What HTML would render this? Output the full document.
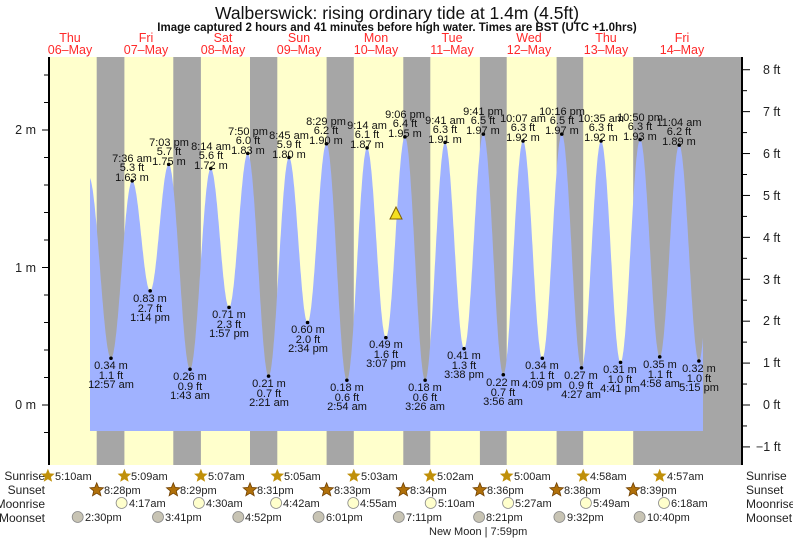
<!DOCTYPE html>
<html><head><meta charset="utf-8"><style>
body{margin:0;background:#fff;}
svg{display:block;font-family:"Liberation Sans",Arial,sans-serif;}
.l{font-size:11px;text-anchor:middle;fill:#111;}
.r{font-size:12px;fill:#222;}
.d{font-size:12.5px;text-anchor:middle;fill:#ff2a2a;}
</style></head><body>
<svg id="s" width="793" height="539" viewBox="0 0 793 539">
<rect x="49" y="57" width="693" height="408" fill="#ffffcc"/>
<g fill="#a6a6a6">
<rect x="96.7" y="57" width="27.7" height="408"/>
<rect x="173.3" y="57" width="27.6" height="408"/>
<rect x="250" y="57" width="27.3" height="408"/>
<rect x="326.6" y="57" width="27.2" height="408"/>
<rect x="403.3" y="57" width="27" height="408"/>
<rect x="479.9" y="57" width="26.8" height="408"/>
<rect x="556.6" y="57" width="26.6" height="408"/>
<rect x="633.2" y="57" width="108.8" height="408"/>
</g>
<path id="tide" fill="#a0b2ff" d=""/>
<g id="dots" fill="#000"></g>
<polygon points="396,207 402,219 390,219" fill="#f5e020" stroke="#806000" stroke-width="1"/>
<!-- axes -->
<line x1="49" y1="57" x2="49" y2="465" stroke="#000" stroke-width="2"/>
<line x1="742" y1="57" x2="742" y2="465" stroke="#000" stroke-width="2"/>
<g id="ticks" stroke="#000" stroke-width="1"></g>
<g font-size="12.5" fill="#222" text-anchor="end">
<text x="36" y="134">2 m</text><text x="36" y="272">1 m</text><text x="36" y="409">0 m</text>
</g>
<g font-size="12.5" fill="#222">
<text x="763" y="74">8 ft</text><text x="763" y="116">7 ft</text><text x="763" y="158">6 ft</text>
<text x="763" y="200">5 ft</text><text x="763" y="242">4 ft</text><text x="763" y="284">3 ft</text>
<text x="763" y="325">2 ft</text><text x="763" y="367">1 ft</text><text x="763" y="409">0 ft</text>
<text x="756" y="451">−1 ft</text>
</g>
<text x="397" y="19" font-size="17.5" text-anchor="middle" fill="#111">Walberswick: rising  ordinary tide at 1.4m (4.5ft)</text>
<text x="397" y="31" font-size="11.5" font-weight="bold" text-anchor="middle" fill="#111">Image captured 2 hours and 41 minutes before high water. Times are BST (UTC +1.0hrs)</text>
<g class="d">
<text x="70" y="42" class="d">Thu</text><text x="70" y="54" class="d">06–May</text>
<text x="146" y="42" class="d">Fri</text><text x="146" y="54" class="d">07–May</text>
<text x="223" y="42" class="d">Sat</text><text x="223" y="54" class="d">08–May</text>
<text x="299" y="42" class="d">Sun</text><text x="299" y="54" class="d">09–May</text>
<text x="376" y="42" class="d">Mon</text><text x="376" y="54" class="d">10–May</text>
<text x="452" y="42" class="d">Tue</text><text x="452" y="54" class="d">11–May</text>
<text x="529" y="42" class="d">Wed</text><text x="529" y="54" class="d">12–May</text>
<text x="606" y="42" class="d">Thu</text><text x="606" y="54" class="d">13–May</text>
<text x="682" y="42" class="d">Fri</text><text x="682" y="54" class="d">14–May</text>
</g>
<!-- High labels -->
<g class="l">
<text x="132" y="162">7:36 am</text><text x="132" y="171">5.3 ft</text><text x="132" y="181">1.63 m</text>
<text x="169" y="146">7:03 pm</text><text x="169" y="155">5.7 ft</text><text x="169" y="165">1.75 m</text>
<text x="211" y="150">8:14 am</text><text x="211" y="159">5.6 ft</text><text x="211" y="169">1.72 m</text>
<text x="248" y="135">7:50 pm</text><text x="248" y="144">6.0 ft</text><text x="248" y="154">1.83 m</text>
<text x="289" y="139">8:45 am</text><text x="289" y="148">5.9 ft</text><text x="289" y="158">1.80 m</text>
<text x="326" y="125">8:29 pm</text><text x="326" y="134">6.2 ft</text><text x="326" y="144">1.90 m</text>
<text x="367" y="129">9:14 am</text><text x="367" y="138">6.1 ft</text><text x="367" y="148">1.87 m</text>
<text x="405" y="118">9:06 pm</text><text x="405" y="127">6.4 ft</text><text x="405" y="137">1.95 m</text>
<text x="445" y="124">9:41 am</text><text x="445" y="133">6.3 ft</text><text x="445" y="143">1.91 m</text>
<text x="483" y="115">9:41 pm</text><text x="483" y="124">6.5 ft</text><text x="483" y="134">1.97 m</text>
<text x="523" y="122">10:07 am</text><text x="523" y="131">6.3 ft</text><text x="523" y="141">1.92 m</text>
<text x="562" y="115">10:16 pm</text><text x="562" y="124">6.5 ft</text><text x="562" y="134">1.97 m</text>
<text x="601" y="122">10:35 am</text><text x="601" y="131">6.3 ft</text><text x="601" y="141">1.92 m</text>
<text x="640" y="121">10:50 pm</text><text x="640" y="130">6.3 ft</text><text x="640" y="140">1.93 m</text>
<text x="679" y="126">11:04 am</text><text x="679" y="135">6.2 ft</text><text x="679" y="145">1.89 m</text>
</g>
<!-- Low labels -->
<g class="l">
<text x="111" y="369">0.34 m</text><text x="111" y="379">1.1 ft</text><text x="111" y="388">12:57 am</text>
<text x="150" y="302">0.83 m</text><text x="150" y="312">2.7 ft</text><text x="150" y="321">1:14 pm</text>
<text x="190" y="380">0.26 m</text><text x="190" y="390">0.9 ft</text><text x="190" y="399">1:43 am</text>
<text x="229" y="318">0.71 m</text><text x="229" y="328">2.3 ft</text><text x="229" y="337">1:57 pm</text>
<text x="269" y="387">0.21 m</text><text x="269" y="397">0.7 ft</text><text x="269" y="406">2:21 am</text>
<text x="308" y="333">0.60 m</text><text x="308" y="343">2.0 ft</text><text x="308" y="352">2:34 pm</text>
<text x="347" y="391">0.18 m</text><text x="347" y="401">0.6 ft</text><text x="347" y="410">2:54 am</text>
<text x="386" y="348">0.49 m</text><text x="386" y="358">1.6 ft</text><text x="386" y="367">3:07 pm</text>
<text x="425" y="391">0.18 m</text><text x="425" y="401">0.6 ft</text><text x="425" y="410">3:26 am</text>
<text x="464" y="359">0.41 m</text><text x="464" y="369">1.3 ft</text><text x="464" y="378">3:38 pm</text>
<text x="503" y="386">0.22 m</text><text x="503" y="396">0.7 ft</text><text x="503" y="405">3:56 am</text>
<text x="542" y="369">0.34 m</text><text x="542" y="379">1.1 ft</text><text x="542" y="388">4:09 pm</text>
<text x="581" y="379">0.27 m</text><text x="581" y="389">0.9 ft</text><text x="581" y="398">4:27 am</text>
<text x="620" y="373">0.31 m</text><text x="620" y="383">1.0 ft</text><text x="620" y="392">4:41 pm</text>
<text x="660" y="368">0.35 m</text><text x="660" y="378">1.1 ft</text><text x="660" y="387">4:58 am</text>
<text x="699" y="372">0.32 m</text><text x="699" y="382">1.0 ft</text><text x="699" y="391">5:15 pm</text>
</g>
<!-- bottom rows -->
<g class="r" text-anchor="end">
<text x="45" y="480">Sunrise</text><text x="45" y="494">Sunset</text><text x="45" y="508">Moonrise</text><text x="45" y="522">Moonset</text>
</g>
<g class="r">
<text x="746" y="480">Sunrise</text><text x="746" y="494">Sunset</text><text x="746" y="508">Moonrise</text><text x="746" y="522">Moonset</text>
</g>
<g id="icons"></g>
<g font-size="11" fill="#222">
<text x="55" y="480">5:10am</text><text x="131" y="480">5:09am</text><text x="208" y="480">5:07am</text>
<text x="284" y="480">5:05am</text><text x="361" y="480">5:03am</text><text x="437" y="480">5:02am</text>
<text x="514" y="480">5:00am</text><text x="590" y="480">4:58am</text><text x="667" y="480">4:57am</text>
<text x="104" y="494">8:28pm</text><text x="180" y="494">8:29pm</text><text x="257" y="494">8:31pm</text>
<text x="334" y="494">8:33pm</text><text x="410" y="494">8:34pm</text><text x="487" y="494">8:36pm</text>
<text x="564" y="494">8:38pm</text><text x="640" y="494">8:39pm</text>
<text x="129" y="507">4:17am</text><text x="206" y="507">4:30am</text><text x="283" y="507">4:42am</text>
<text x="360" y="507">4:55am</text><text x="438" y="507">5:10am</text><text x="515" y="507">5:27am</text>
<text x="593" y="507">5:49am</text><text x="671" y="507">6:18am</text>
<text x="85" y="521">2:30pm</text><text x="165" y="521">3:41pm</text><text x="245" y="521">4:52pm</text>
<text x="326" y="521">6:01pm</text><text x="406" y="521">7:11pm</text><text x="486" y="521">8:21pm</text>
<text x="567" y="521">9:32pm</text><text x="647" y="521">10:40pm</text>
<text x="429" y="535">New Moon | 7:59pm</text>
</g>
</svg>
<script>
(function(){
var E=[[18.0,1.66],[24.95,.34],[31.6,1.63],[37.23,.83],[43.05,1.75],[49.72,.26],[56.23,1.72],[61.95,.71],[67.83,1.83],[74.35,.21],[80.75,1.80],[86.57,.60],[92.48,1.90],[98.9,.18],[105.23,1.87],[111.12,.49],[117.1,1.95],[123.43,.18],[129.68,1.91],[135.63,.41],[141.68,1.97],[147.93,.22],[154.12,1.92],[160.15,.34],[166.27,1.97],[172.45,.27],[178.58,1.92],[184.68,.31],[190.83,1.93],[196.97,.35],[203.07,1.89],[209.25,.32],[215.3,1.9]];
function X(t){return 31.4+t*3.19;}function Y(h){return 405-h*137.5;}
function H(t){for(var i=0;i<E.length-1;i++){if(t>=E[i][0]&&t<=E[i+1][0]){var f=(t-E[i][0])/(E[i+1][0]-E[i][0]);return E[i][1]+(E[i+1][1]-E[i][1])*(1-Math.cos(Math.PI*f))/2;}}return E[0][1];}
var t0=(90-31.4)/3.19,t1=(703-31.4)/3.19,d="M90,431";
for(var t=t0;t<=t1;t+=0.1){d+="L"+X(t).toFixed(1)+","+Y(H(t)).toFixed(1);}
d+="L703,"+Y(H(t1)).toFixed(1)+"L703,431Z";
document.getElementById("tide").setAttribute("d",d);
var ns="http://www.w3.org/2000/svg",g=document.getElementById("dots");
for(var i=1;i<E.length-1;i++){var c=document.createElementNS(ns,"circle");c.setAttribute("cx",X(E[i][0]));c.setAttribute("cy",Y(E[i][1]));c.setAttribute("r",1.8);g.appendChild(c);}
var tk=document.getElementById("ticks");
function ln(a,b,c,e){var l=document.createElementNS(ns,"line");l.setAttribute("x1",a);l.setAttribute("y1",b);l.setAttribute("x2",c);l.setAttribute("y2",e);tk.appendChild(l);}
for(var m=-0.2;m<=2.6;m+=0.2){var y=Y(m);if(y<57||y>465)continue;var maj=Math.abs(m-Math.round(m))<0.01;ln(maj?42:44,y,49,y);}
for(var f=-1.5;f<=8.5;f+=0.5){var y=405-f*41.91;if(y<57||y>465)continue;var maj=Math.abs(f-Math.round(f))<0.01;ln(742,y,maj?750:747,y);}
var ic=document.getElementById("icons");
function star(x,y,fill,st){var p="";for(var k=0;k<10;k++){var r=k%2?3.2:7.2,a=-Math.PI/2+k*Math.PI/5;p+=(x+r*Math.cos(a)).toFixed(1)+","+(y+r*Math.sin(a)).toFixed(1)+" ";}var s=document.createElementNS(ns,"polygon");s.setAttribute("points",p);s.setAttribute("fill",fill);if(st){s.setAttribute("stroke",st);s.setAttribute("stroke-width","0.8");}ic.appendChild(s);}
function circ(x,y,fill){var c=document.createElementNS(ns,"circle");c.setAttribute("cx",x);c.setAttribute("cy",y);c.setAttribute("r",5.5);c.setAttribute("fill",fill);c.setAttribute("stroke","#888");c.setAttribute("stroke-width","0.8");ic.appendChild(c);}
[47.9,124.4,200.9,277.3,353.8,430.3,506.7,583.2,659.7].forEach(function(x){star(x,476,"#c0900a");});
[96.7,173.3,250,326.6,403.3,479.9,556.6,633.2].forEach(function(x){star(x,490,"#b0700a","#704000");});
[121.6,198.9,276.1,353.3,430.7,508.1,585.9,664].forEach(function(x){circ(x,503,"#ffffcc");});
[77.7,158,238.3,318.6,398.8,479.1,559.4,639.6].forEach(function(x){circ(x,517,"#c8c4b4");});
})();
</script>
</body></html>
